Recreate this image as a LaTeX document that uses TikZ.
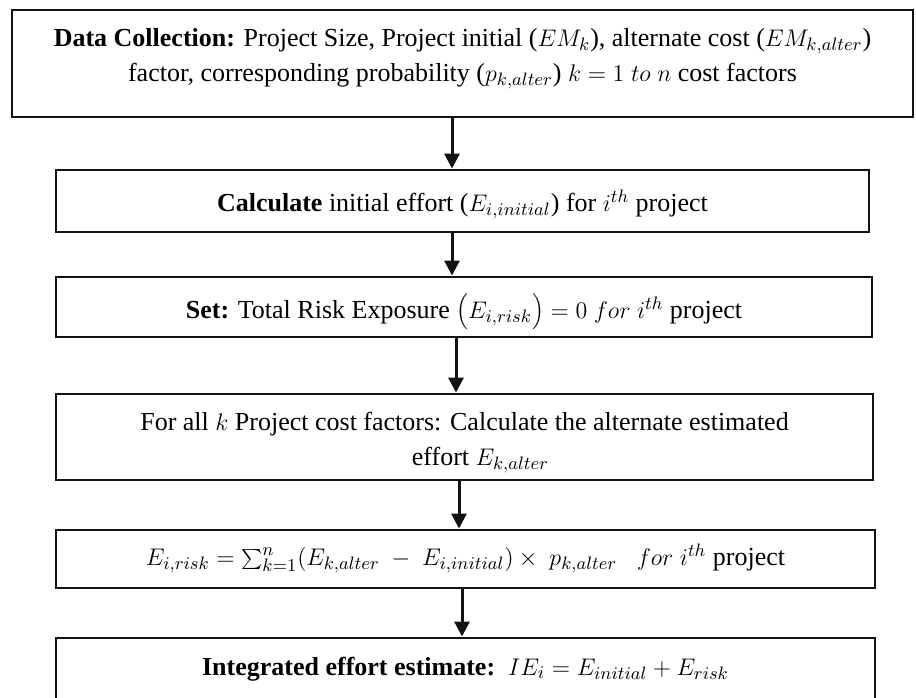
\documentclass[tikz,border=0pt]{standalone}
\usepackage{fontspec}
\setmainfont{Liberation Serif}
\usetikzlibrary{arrows.meta}

\tikzset{
  stepbox/.style={draw=black!93, line width=1.45pt, rectangle, inner sep=0pt,
    align=center, font=\fontsize{13pt}{17.5pt}\selectfont, text=black},
  arr/.style={line width=1.5pt, draw=black!93,
    -{Triangle[length=7.5pt,width=7.5pt]}}
}

\begin{document}
\begin{tikzpicture}[x=0.5pt, y=-0.5pt]
  \useasboundingbox (0,0) rectangle (916,697);
  \clip (0,0) rectangle (916,697);

  % process boxes, top to bottom
  \node[stepbox, minimum width=450.5pt, minimum height=53.5pt] (b1) at (462.5,63.5)
    {\textbf{Data Collection:} Project Size, Project initial ($EM_k$), alternate cost ($EM_{k,alter}$)\\
     factor, corresponding probability ($p_{k,alter}$) $k = 1\ to\ n$ cost factors\rule[-9pt]{0pt}{1pt}};

  \node[stepbox, minimum width=406.5pt, minimum height=31pt,
        text height=13pt, text depth=3pt] (b2) at (462.5,201)
    {\textbf{Calculate} initial effort ($E_{i,initial}$) for $i^{th}$ project};

  \node[stepbox, minimum width=408pt, minimum height=30pt,
        text height=14pt, text depth=3pt] (b3) at (464,307)
    {\textbf{Set:} Total Risk Exposure $\left(E_{i,risk}\right) = 0\ for\ i^{th}$ project};

  \node[stepbox, minimum width=408.5pt, minimum height=43pt] (b4) at (464.5,437)
    {\rule{0pt}{14.5pt}For all $k$ Project cost factors: Calculate the alternate estimated\\
     \hspace*{16pt}effort $E_{k,alter}$};

  \node[stepbox, minimum width=409.5pt, minimum height=29pt,
        text height=9pt, text depth=3pt] (b5) at (465.5,559)
    {$E_{i,risk} = \sum_{k=1}^{n}\!\big(E_{k,alter}\ -\ E_{i,initial}\big) \times\ p_{k,alter}\ \ \ for\ i^{th}$ project};

  \node[stepbox, minimum width=409.5pt, minimum height=31pt,
        text height=9pt, text depth=3pt] (b6) at (465.5,669)
    {\textbf{Integrated effort estimate:}\ \ $IE_i = E_{initial} + E_{risk}$};

  % connectors
  \draw[arr] (b1.south -| 452,0) -- (b2.north -| 452,0);
  \draw[arr] (b2.south -| 452,0) -- (b3.north -| 452,0);
  \draw[arr] (b3.south -| 456,0) -- (b4.north -| 456,0);
  \draw[arr] (b4.south -| 459,0) -- (b5.north -| 459,0);
  \draw[arr] (b5.south -| 462,0) -- (b6.north -| 462,0);
\end{tikzpicture}
\end{document}
